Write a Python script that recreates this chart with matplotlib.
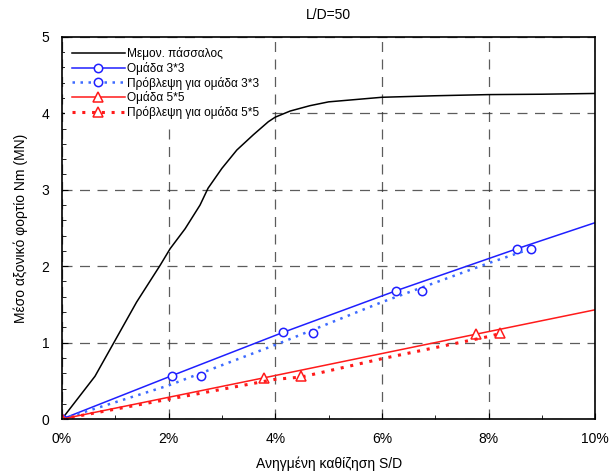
import matplotlib
matplotlib.use("Agg")
import matplotlib.pyplot as plt
from matplotlib.lines import Line2D
from matplotlib.ticker import MultipleLocator, FuncFormatter

plt.rcParams["font.family"] = ["Liberation Sans", "DejaVu Sans"]

# single pile curve
single_x = [0, 0.62, 0.99, 1.40, 1.84, 2.03, 2.31, 2.59, 2.74, 3.00, 3.28, 3.59, 3.87, 4.0, 4.28,
            4.65, 5.0, 5.5, 6.0, 7.0, 8.0, 9.0, 10.0]
single_y = [0, 0.56, 1.02, 1.53, 2.01, 2.23, 2.49, 2.80, 3.02, 3.28, 3.52, 3.72, 3.89, 3.95, 4.03,
            4.10, 4.15, 4.18, 4.21, 4.23, 4.245, 4.25, 4.26]

# group 3x3 measured
g3_x = [0, 2.07, 4.15, 6.27, 8.54, 10.0]
g3_y = [0, 0.57, 1.135, 1.68, 2.23, 2.57]

# group 3x3 prediction (line + markers)
p3_x = [0, 2.0, 4.0, 6.0, 8.0, 8.80]
p3_y = [0, 0.44, 0.97, 1.53, 2.04, 2.23]
p3_mx = [0, 2.60, 4.71, 6.75, 8.80]
p3_my = [0, 0.57, 1.12, 1.68, 2.23]

# group 5x5 measured
g5_x = [0, 3.79, 7.76, 10.0]
g5_y = [0, 0.54, 1.11, 1.43]

# group 5x5 prediction
p5_x = [0, 2.0, 4.0, 4.49, 6.0, 8.0, 8.22]
p5_y = [0, 0.26, 0.52, 0.55, 0.79, 1.08, 1.12]
p5_mx = [0, 4.49, 8.22]
p5_my = [0, 0.56, 1.12]

labels = ["Μεμον. πάσσαλος", "Ομάδα 3*3", "Πρόβλεψη για ομάδα 3*3",
          "Ομάδα 5*5", "Πρόβλεψη για ομάδα 5*5"]

fig = plt.figure(figsize=(6.13, 4.73), dpi=100)
ax = fig.add_axes([0.101, 0.114, 0.870, 0.808])

blue = "#1f1fff"
blue_lt = "#3d6bff"
red = "#ff1a1a"

ax.plot(single_x, single_y, color="black", lw=1.1, label=labels[0])
ax.plot(g3_x, g3_y, color=blue, lw=1.1, marker="o", markevery=[0, 1, 2, 3, 4],
        ms=6, mfc="white", mec=blue, mew=1.1, label=labels[1])
ax.plot(p3_x, p3_y, color=blue_lt, lw=1.8, ls=(0, (1, 2.2)))
ax.plot(p3_mx, p3_my, ls="none", marker="o", ms=6, mfc="white", mec=blue, mew=1.1)
ax.plot(g5_x, g5_y, color=red, lw=1.1, marker="^", markevery=[0, 1, 2],
        ms=7, mfc="white", mec=red, mew=1.1, label=labels[3])
ax.plot(p5_x, p5_y, color=red, lw=2.2, ls=(0, (1, 2.2)))
ax.plot(p5_mx, p5_my, ls="none", marker="^", ms=7, mfc="white", mec=red, mew=1.1)

# legend proxies for prediction entries
h = ax.get_legend_handles_labels()[0]
h3 = Line2D([], [], color=blue_lt, lw=1.8, ls=(0, (1, 2.2)), marker="o", ms=6,
            mfc="white", mec=blue, mew=1.1)
h5 = Line2D([], [], color=red, lw=2.2, ls=(0, (1, 2.2)), marker="^", ms=7,
            mfc="white", mec=red, mew=1.1)
leg = ax.legend([h[0], h[1], h3, h[2], h5], labels, loc="upper left", frameon=True,
                fontsize=8.6, handlelength=4.4, handletextpad=0.2, labelspacing=0.15,
                borderaxespad=0.25, borderpad=0.6, fancybox=False,
                bbox_to_anchor=(0.0, 1.0))
leg.get_frame().set_facecolor("white")
leg.get_frame().set_edgecolor("none")
leg.get_frame().set_alpha(1.0)
# above the grid, below the data lines
leg.set_zorder(1.8)

ax.set_xlim(0, 10)
ax.set_ylim(0, 5)
ax.xaxis.set_major_locator(MultipleLocator(2))
ax.xaxis.set_minor_locator(MultipleLocator(1))
ax.yaxis.set_major_locator(MultipleLocator(1))
ax.yaxis.set_minor_locator(MultipleLocator(0.2))
ax.xaxis.set_major_formatter(FuncFormatter(lambda v, p: f"{v:.0f}%"))
ax.tick_params(which="both", direction="in", labelsize=10)
ax.tick_params(which="major", length=4, pad=9)
ax.tick_params(which="minor", length=3)
ax.grid(True, which="major", color="#333333", ls=(0, (8, 6)), lw=0.9, alpha=0.8)
for s in ax.spines.values():
    s.set_linewidth(1.2)

ax.set_title("L/D=50", fontsize=10, pad=13)
ax.set_xlabel("Ανηγμένη καθίζηση S/D", fontsize=10, labelpad=8)
ax.set_ylabel("Μέσο αξονικό φορτίο Nm (MN)", fontsize=10, labelpad=10)

fig.savefig("out.png", dpi=100)
